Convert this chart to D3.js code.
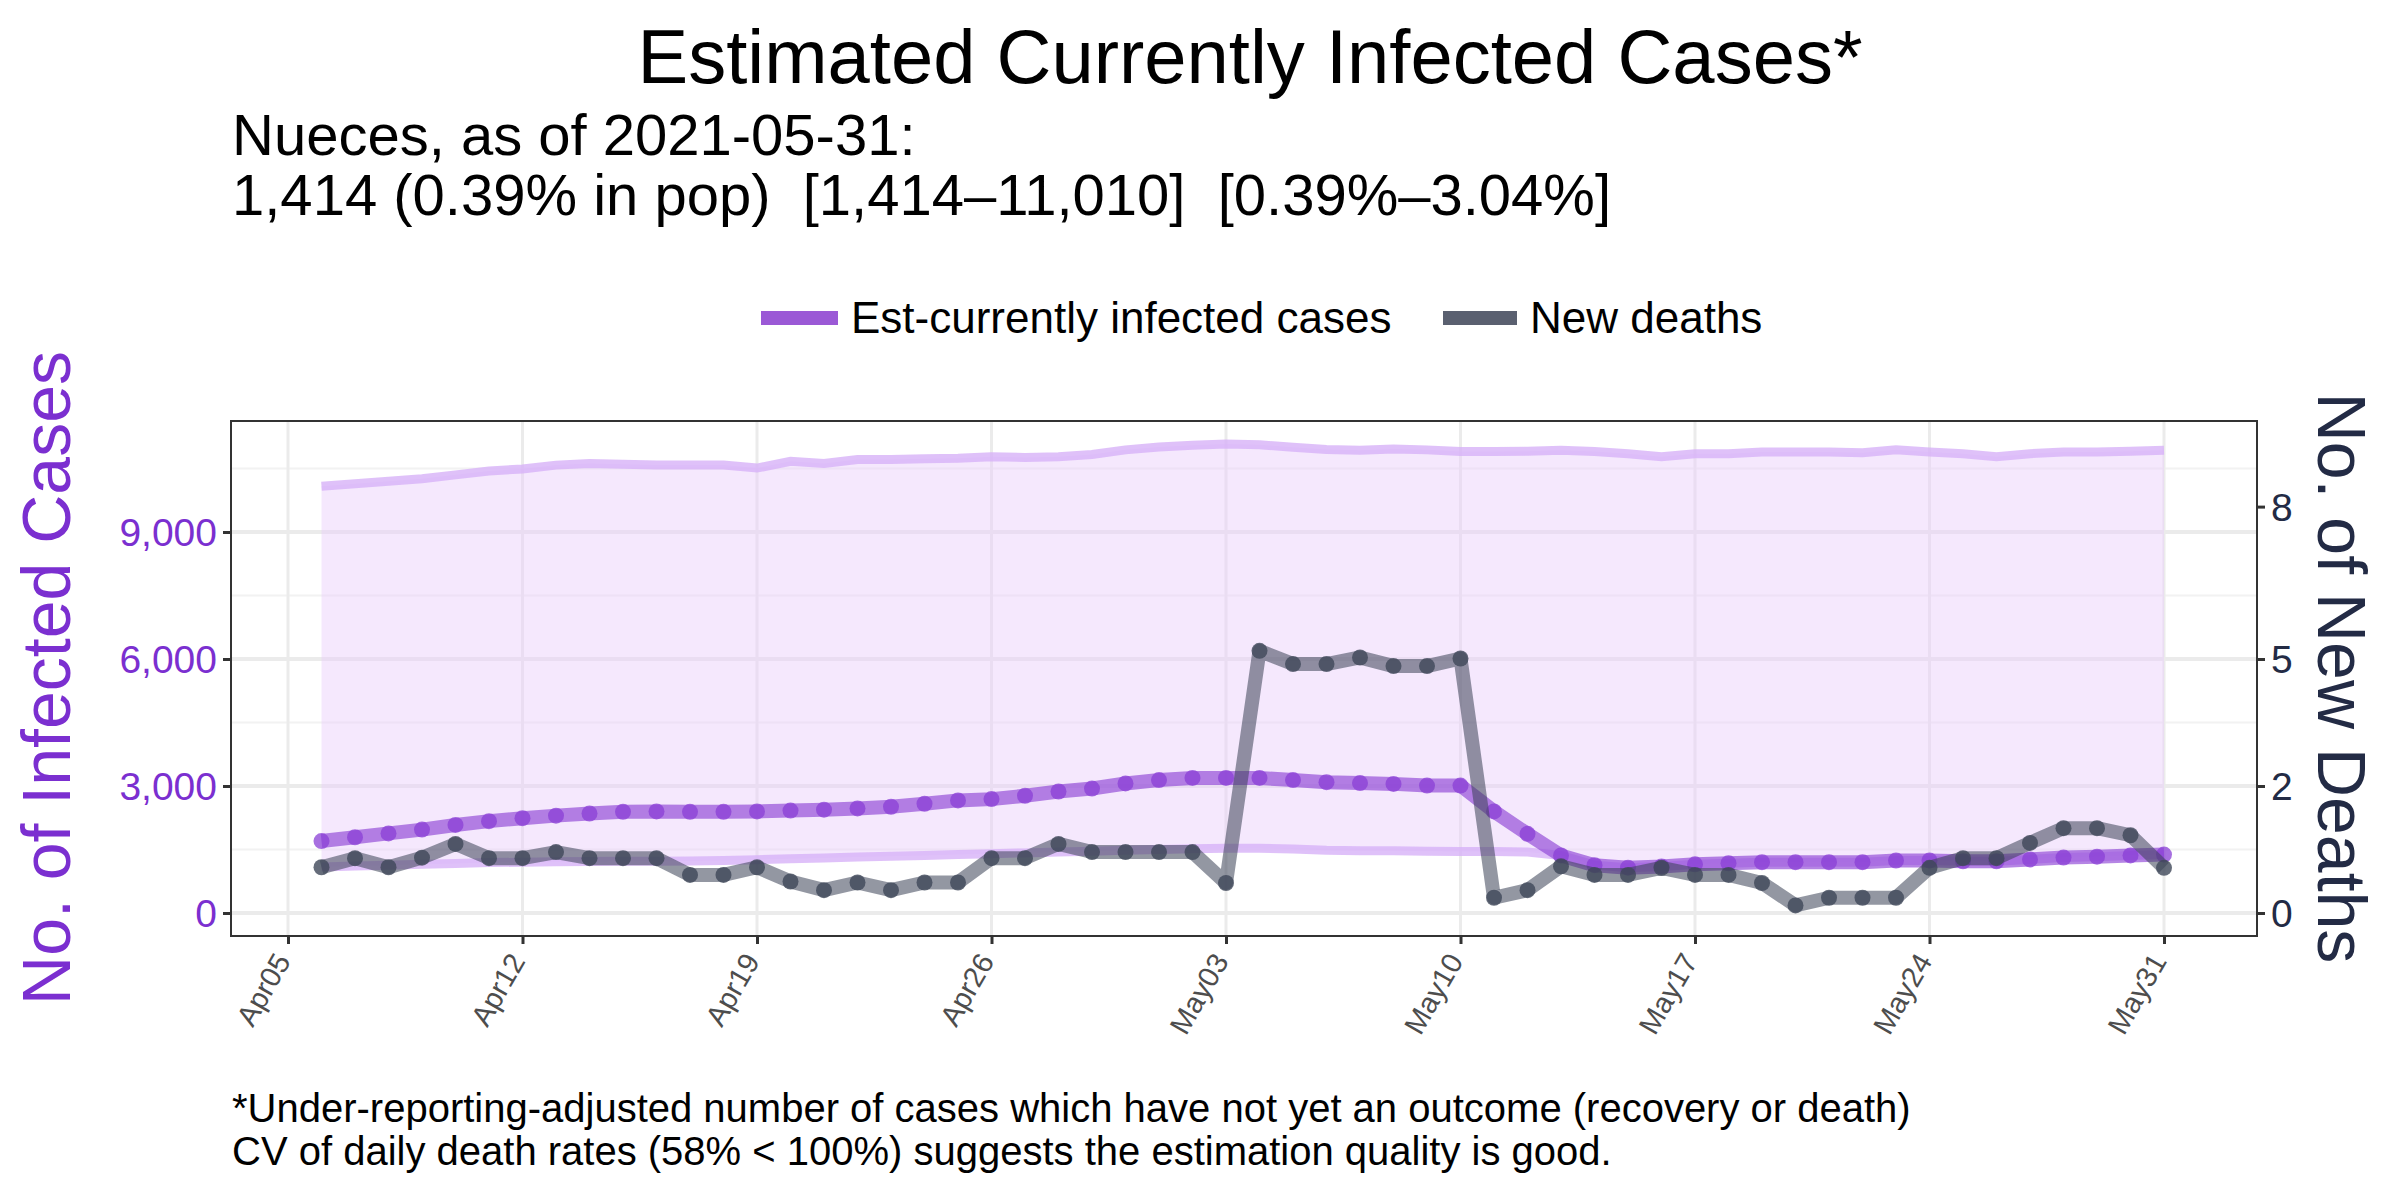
<!DOCTYPE html>
<html><head><meta charset="utf-8">
<script src="https://cdn.jsdelivr.net/npm/d3@7"></script>
<style>body{margin:0;background:#fff}text{font-family:"Liberation Sans",Arial,sans-serif;white-space:pre}</style>
</head><body><svg id="c" width="2400" height="1200"></svg>
<script>
const startDate = "2021-04-06";
const estCases = [1700,1790,1880,1970,2080,2170,2240,2300,2350,2390,2400,2390,2390,2400,2420,2440,2470,2510,2580,2660,2690,2770,2870,2940,3060,3140,3190,3190,3190,3140,3090,3070,3050,3010,3010,2400,1870,1360,1130,1070,1100,1150,1175,1200,1200,1200,1200,1240,1240,1220,1220,1265,1310,1330,1360,1380,1414];
const upperCases = [10080,10140,10200,10260,10350,10440,10490,10580,10620,10600,10580,10580,10580,10510,10670,10620,10710,10710,10730,10740,10780,10760,10780,10830,10940,11010,11050,11080,11060,11000,10950,10930,10960,10940,10900,10900,10910,10930,10900,10850,10780,10850,10850,10890,10890,10890,10870,10940,10890,10850,10780,10850,10890,10890,10910,10930,10980];
const lowerCases = [1085,1110,1130,1150,1170,1190,1200,1210,1215,1220,1225,1230,1240,1260,1280,1300,1320,1340,1360,1380,1400,1420,1440,1460,1480,1500,1520,1530,1530,1510,1480,1470,1470,1460,1450,1450,1440,1360,1130,1070,1100,1150,1175,1200,1200,1200,1200,1240,1240,1220,1220,1265,1310,1330,1360,1380,1414];
const newDeaths = [0.9,1.08,0.9,1.09,1.36,1.08,1.08,1.2,1.08,1.08,1.08,0.75,0.75,0.9,0.62,0.45,0.6,0.45,0.6,0.6,1.08,1.08,1.36,1.2,1.2,1.2,1.2,0.59,5.16,4.9,4.9,5.03,4.86,4.86,5.01,0.3,0.45,0.92,0.75,0.75,0.89,0.75,0.75,0.59,0.15,0.3,0.3,0.3,0.89,1.08,1.08,1.38,1.67,1.67,1.53,0.89];
const xTicks = ["2021-04-05","2021-04-12","2021-04-19","2021-04-26","2021-05-03","2021-05-10","2021-05-17","2021-05-24","2021-05-31"];
const xTickLabels = ["Apr05","Apr12","Apr19","Apr26","May03","May10","May17","May24","May31"];
const yTicks = [0,3000,6000,9000];
const yMinor = [1500,4500,7500,10500];
const y2Ticks = [0,2.5,5,8];
const y2Labels = ["0","2","5","8"];

const parse = d3.utcParse("%Y-%m-%d");
const t0 = parse(startDate);
const n = newDeaths.length;
const dayAt = i => d3.utcDay.offset(t0, i);
const svg = d3.select("#c");
const L=231,R=2257,T=421,B=936;
const x = d3.scaleUtc().domain([parse("2021-04-05"), parse("2021-05-31")]).range([288,2164]);
const y = d3.scaleLinear().domain([0,9000]).range([913,532]);
const y2 = d3.scaleLinear().domain([0,9000/1200]).range([913,532]);
const purple="#7B2FD0", navy="#232B45";

const g = svg.append("g");
yMinor.forEach(v=>g.append("line").attr("x1",L).attr("x2",R).attr("y1",y(v)).attr("y2",y(v)).attr("stroke","#F2F2F2").attr("stroke-width",2));
yTicks.forEach(v=>g.append("line").attr("x1",L).attr("x2",R).attr("y1",y(v)).attr("y2",y(v)).attr("stroke","#EBEBEB").attr("stroke-width",4));
xTicks.forEach(d=>g.append("line").attr("x1",x(parse(d))).attr("x2",x(parse(d))).attr("y1",T).attr("y2",B).attr("stroke","#EBEBEB").attr("stroke-width",3));

const idx = d3.range(n);
const area = d3.area().x(i=>x(dayAt(i))).y0(i=>y(lowerCases[i])).y1(i=>y(upperCases[i]));
svg.append("path").attr("d",area(idx)).attr("fill","#E9CCFB").attr("opacity",0.45);
const lineU = d3.line().x(i=>x(dayAt(i))).y(i=>y(upperCases[i]));
const lineL = d3.line().x(i=>x(dayAt(i))).y(i=>y(lowerCases[i]));
svg.append("path").attr("d",lineU(idx)).attr("fill","none").attr("stroke","#D7B2F7").attr("stroke-width",9).attr("opacity",0.8);
svg.append("path").attr("d",lineL(idx)).attr("fill","none").attr("stroke","#D7B2F7").attr("stroke-width",9).attr("opacity",0.8);

const lineE = d3.line().x(i=>x(dayAt(i))).y(i=>y(estCases[i]));
svg.append("path").attr("d",lineE(idx)).attr("fill","none").attr("stroke","#8E44D6").attr("stroke-width",14).attr("opacity",0.65).attr("stroke-linejoin","round");
svg.selectAll(".pe").data(idx).enter().append("circle").attr("cx",i=>x(dayAt(i))).attr("cy",i=>y(estCases[i])).attr("r",8).attr("fill","#8A3FD6").attr("opacity",0.75);

const lineD = d3.line().x(i=>x(dayAt(i))).y(i=>y2(newDeaths[i]));
svg.append("path").attr("d",lineD(idx)).attr("fill","none").attr("stroke","#3A4255").attr("stroke-width",14).attr("opacity",0.55).attr("stroke-linejoin","round");
svg.selectAll(".pd").data(idx).enter().append("circle").attr("cx",i=>x(dayAt(i))).attr("cy",i=>y2(newDeaths[i])).attr("r",8).attr("fill","#3F4759").attr("opacity",0.8);

svg.append("rect").attr("x",L).attr("y",T).attr("width",R-L).attr("height",B-T).attr("fill","none").attr("stroke","#333").attr("stroke-width",2);

const ax = d3.axisLeft(y).tickValues(yTicks).tickFormat(d3.format(",")).tickSize(8).tickPadding(6);
const ga = svg.append("g").attr("transform",`translate(${L},0)`).call(ax);
ga.select(".domain").remove();
ga.selectAll("line").attr("stroke","#333").attr("stroke-width",3);
ga.selectAll("text").attr("fill",purple).attr("font-size",39).attr("dy","0.35em");

const ax2 = d3.axisRight(y2).tickValues(y2Ticks).tickFormat((d,i)=>y2Labels[i]).tickSize(8).tickPadding(6);
const gb = svg.append("g").attr("transform",`translate(${R},0)`).call(ax2);
gb.select(".domain").remove();
gb.selectAll("line").attr("stroke","#333").attr("stroke-width",3);
gb.selectAll("text").attr("fill",navy).attr("font-size",39).attr("dy","0.35em");

const axb = d3.axisBottom(x).tickValues(xTicks.map(parse)).tickFormat((d,i)=>xTickLabels[i]).tickSize(8);
const gx = svg.append("g").attr("transform",`translate(0,${B})`).call(axb);
gx.select(".domain").remove();
gx.selectAll("line").attr("stroke","#333").attr("stroke-width",3);
gx.selectAll("text").attr("fill","#4D4D4D").attr("font-size",29).attr("text-anchor","end")
  .attr("transform","translate(0,10) rotate(-60)").attr("dy","0.35em").attr("dx","-0.4em").attr("y",0);

svg.append("text").attr("x",1250).attr("y",83).attr("text-anchor","middle").attr("font-size",76).text("Estimated Currently Infected Cases*");
svg.append("text").attr("x",232).attr("y",155).attr("font-size",58).text("Nueces, as of 2021-05-31:");
svg.append("text").attr("x",232).attr("y",215).attr("font-size",58).text("1,414 (0.39% in pop)  [1,414–11,010]  [0.39%–3.04%]");
svg.append("text").attr("transform","translate(70,678) rotate(-90)").attr("text-anchor","middle").attr("font-size",68).attr("fill",purple).text("No. of Infected Cases");
svg.append("text").attr("transform","translate(2318,678) rotate(90)").attr("text-anchor","middle").attr("font-size",68).attr("fill",navy).text("No. of New Deaths");

const leg = svg.append("g");
leg.append("line").attr("x1",761).attr("x2",838).attr("y1",318).attr("y2",318).attr("stroke","#9B59D6").attr("stroke-width",14);
leg.append("text").attr("x",851).attr("y",318).attr("dy","0.35em").attr("font-size",44).text("Est-currently infected cases");
leg.append("line").attr("x1",1443).attr("x2",1517).attr("y1",318).attr("y2",318).attr("stroke","#5A6070").attr("stroke-width",14);
leg.append("text").attr("x",1530).attr("y",318).attr("dy","0.35em").attr("font-size",44).text("New deaths");

svg.append("text").attr("x",232).attr("y",1122).attr("font-size",40).text("*Under-reporting-adjusted number of cases which have not yet an outcome (recovery or death)");
svg.append("text").attr("x",232).attr("y",1165).attr("font-size",40).text("CV of daily death rates (58% < 100%) suggests the estimation quality is good.");
</script></body></html>
